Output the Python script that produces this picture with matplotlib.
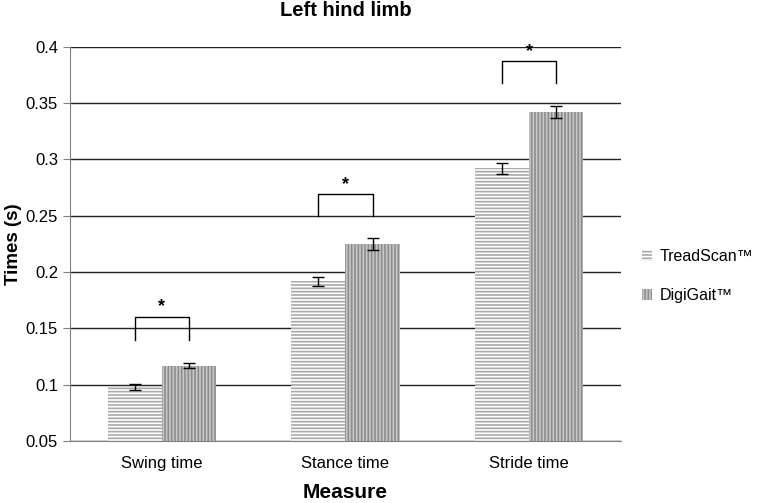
import matplotlib.pyplot as plt
import numpy as np

plt.rcParams['font.family'] = ['Liberation Sans', 'DejaVu Sans']

categories = ["Swing time", "Stance time", "Stride time"]
series_names = ["TreadScan\u2122", "DigiGait\u2122"]
treadscan = [0.098, 0.192, 0.292]
treadscan_err = [0.003, 0.004, 0.005]
digigait = [0.117, 0.225, 0.342]
digigait_err = [0.0025, 0.005, 0.005]
# significance brackets: (bottom of legs, top bar)
brackets = [(0.140, 0.160), (0.250, 0.269), (0.368, 0.387)]

plt.rcParams['hatch.linewidth'] = 1.2

fig = plt.figure(figsize=(7.6, 5.03), dpi=100)
ax = fig.add_axes([0.092, 0.123, 0.725, 0.784])

x = np.arange(len(categories))
w = 0.295

ax.set_ylim(0.05, 0.4)
ax.set_xlim(-0.5, 2.5)
ax.set_yticks(np.arange(0.05, 0.401, 0.05))
ax.set_yticklabels(["0.05", "0.1", "0.15", "0.2", "0.25", "0.3", "0.35", "0.4"])
ax.yaxis.grid(True, color="#222222", linewidth=1.0)
ax.set_axisbelow(True)

b1 = ax.bar(x - w / 2, np.array(treadscan) - 0.05, w, bottom=0.05, color="white",
            edgecolor="#a8a8a8", hatch="-----", linewidth=0, label=series_names[0])
b2 = ax.bar(x + w / 2, np.array(digigait) - 0.05, w, bottom=0.05, color="#c8c8c8",
            edgecolor="#8c8c8c", hatch="|||||", linewidth=0, label=series_names[1])
ax.errorbar(x - w / 2, treadscan, yerr=treadscan_err, fmt="none", ecolor="black",
            elinewidth=1, capsize=4, capthick=1)
ax.errorbar(x + w / 2, digigait, yerr=digigait_err, fmt="none", ecolor="black",
            elinewidth=1, capsize=4, capthick=1)

for xi, (lo, hi) in zip(x, brackets):
    ax.plot([xi - w / 2, xi - w / 2, xi + w / 2, xi + w / 2], [lo, hi, hi, lo],
            color="black", linewidth=1)
    ax.text(xi, hi + 0.0015, "*", ha="center", va="bottom", fontsize=13, fontweight="bold")

for side in ["top", "right"]:
    ax.spines[side].set_visible(False)
ax.spines["left"].set_color("#808080")
ax.spines["bottom"].set_color("#808080")
ax.tick_params(axis="y", colors="#808080", labelcolor="black", labelsize=12, length=5)
ax.tick_params(axis="x", length=0, labelsize=12, pad=11)
ax.set_xticks(x)
ax.set_xticklabels(categories)

ax.set_title("Left hind limb", fontsize=14.5, fontweight="bold", pad=22)
ax.set_xlabel("Measure", fontsize=15, fontweight="bold", labelpad=8)
ax.set_ylabel("Times (s)", fontsize=13.5, fontweight="bold", labelpad=3)

fig.legend(handles=[b1, b2], labels=series_names, loc="center left",
           bbox_to_anchor=(0.845, 0.451), frameon=False, fontsize=11.5,
           borderpad=0, borderaxespad=0,
           handlelength=0.6, handleheight=0.6, handletextpad=0.5, labelspacing=1.5)

fig.savefig("out.png", dpi=100)
